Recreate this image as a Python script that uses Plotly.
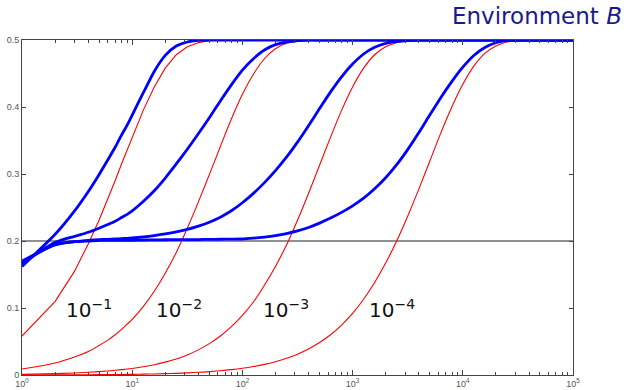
import plotly.graph_objects as go

# x sample points (time)
x_vals = [1, 2, 3, 4, 5, 6, 7, 8, 9, 10,
          12.59, 15.85, 19.95, 25.12, 31.62, 39.81, 50.12, 63.1, 79.43, 100,
          125.9, 158.5, 199.5, 251.2, 316.2, 398.1, 501.2, 631, 794.3, 1000,
          1259, 1585, 1995, 2512, 3162, 3981, 5012, 6310, 7943, 10000,
          12589, 15849, 19953, 25119, 31623, 39811, 50119, 63096, 79433, 100000]

red_1 = [0.058, 0.110, 0.155, 0.196, 0.231, 0.262, 0.290, 0.315, 0.336, 0.355,
         0.395, 0.430, 0.458, 0.478, 0.490, 0.496, 0.499, 0.5, 0.5, 0.5,
         0.5, 0.5, 0.5, 0.5, 0.5, 0.5, 0.5, 0.5, 0.5, 0.5,
         0.5, 0.5, 0.5, 0.5, 0.5, 0.5, 0.5, 0.5, 0.5, 0.5,
         0.5, 0.5, 0.5, 0.5, 0.5, 0.5, 0.5, 0.5, 0.5, 0.5]
red_2 = [0.009, 0.018, 0.027, 0.035, 0.044, 0.052, 0.060, 0.068, 0.076, 0.083,
         0.102, 0.125, 0.152, 0.183, 0.219, 0.258, 0.299, 0.341, 0.382, 0.419,
         0.449, 0.472, 0.487, 0.495, 0.498, 0.4996, 0.5, 0.5, 0.5, 0.5,
         0.5, 0.5, 0.5, 0.5, 0.5, 0.5, 0.5, 0.5, 0.5, 0.5,
         0.5, 0.5, 0.5, 0.5, 0.5, 0.5, 0.5, 0.5, 0.5, 0.5]
red_3 = [0.001, 0.002, 0.003, 0.004, 0.005, 0.006, 0.007, 0.008, 0.009, 0.0097,
         0.0122, 0.0153, 0.0192, 0.0240, 0.0300, 0.0375, 0.0468, 0.0582, 0.0721, 0.089,
         0.109, 0.134, 0.162, 0.194, 0.231, 0.271, 0.313, 0.355, 0.395, 0.430,
         0.458, 0.478, 0.490, 0.496, 0.499, 0.4998, 0.5, 0.5, 0.5, 0.5,
         0.5, 0.5, 0.5, 0.5, 0.5, 0.5, 0.5, 0.5, 0.5, 0.5]
red_4 = [0.0001, 0.0002, 0.0003, 0.0004, 0.0005, 0.0006, 0.0007, 0.0008, 0.0009, 0.001,
         0.0013, 0.0016, 0.0020, 0.0025, 0.0032, 0.0040, 0.0051, 0.0064, 0.0080, 0.0100,
         0.0126, 0.0158, 0.0199, 0.0249, 0.0311, 0.0388, 0.0484, 0.0601, 0.0745, 0.0919,
         0.113, 0.138, 0.167, 0.200, 0.237, 0.277, 0.319, 0.361, 0.400, 0.434,
         0.461, 0.480, 0.491, 0.497, 0.499, 0.4999, 0.5, 0.5, 0.5, 0.5]

blue_1 = [0.162, 0.210, 0.245, 0.274, 0.299, 0.321, 0.340, 0.358, 0.373, 0.388,
          0.421, 0.453, 0.477, 0.491, 0.497, 0.4995, 0.5, 0.5, 0.5, 0.5,
          0.5, 0.5, 0.5, 0.5, 0.5, 0.5, 0.5, 0.5, 0.5, 0.5,
          0.5, 0.5, 0.5, 0.5, 0.5, 0.5, 0.5, 0.5, 0.5, 0.5,
          0.5, 0.5, 0.5, 0.5, 0.5, 0.5, 0.5, 0.5, 0.5, 0.5]
blue_2 = [0.166, 0.198, 0.207, 0.213, 0.219, 0.2245, 0.2295, 0.235, 0.2398, 0.245,
          0.259, 0.275, 0.294, 0.315, 0.337, 0.360, 0.384, 0.409, 0.433, 0.455,
          0.472, 0.485, 0.493, 0.497, 0.499, 0.5, 0.5, 0.5, 0.5, 0.5,
          0.5, 0.5, 0.5, 0.5, 0.5, 0.5, 0.5, 0.5, 0.5, 0.5,
          0.5, 0.5, 0.5, 0.5, 0.5, 0.5, 0.5, 0.5, 0.5, 0.5]
blue_3 = [0.169, 0.195, 0.199, 0.201, 0.202, 0.2025, 0.203, 0.2035, 0.204, 0.2045,
          0.206, 0.208, 0.2105, 0.2135, 0.2173, 0.2221, 0.2281, 0.2356, 0.2451, 0.2571,
          0.2711, 0.2871, 0.3051, 0.3251, 0.3476, 0.3721, 0.3976, 0.4226, 0.4451, 0.4641,
          0.4791, 0.4891, 0.4951, 0.4981, 0.4991, 0.5, 0.5, 0.5, 0.5, 0.5,
          0.5, 0.5, 0.5, 0.5, 0.5, 0.5, 0.5, 0.5, 0.5, 0.5]
blue_4 = [0.170, 0.194, 0.199, 0.200, 0.201, 0.201, 0.201, 0.201, 0.201, 0.201,
          0.2015, 0.2017, 0.2019, 0.202, 0.202, 0.2022, 0.2024, 0.2026, 0.2028, 0.203,
          0.2042, 0.2058, 0.208, 0.211, 0.215, 0.2202, 0.2267, 0.2342, 0.2427, 0.2524,
          0.2639, 0.2779, 0.2944, 0.3139, 0.3364, 0.3614, 0.3879, 0.4139, 0.4379, 0.4594,
          0.4769, 0.4889, 0.4959, 0.4994, 0.5, 0.5, 0.5, 0.5, 0.5, 0.5]

threshold = 0.2
x_extent = [1, 100000]

rate_labels = ["10<sup>\u22121</sup>", "10<sup>\u22122</sup>",
               "10<sup>\u22123</sup>", "10<sup>\u22124</sup>"]
x_tickvals = [1, 10, 100, 1000, 10000, 100000]
x_ticktext = ["10<sup>0</sup>", "10<sup>1</sup>", "10<sup>2</sup>",
              "10<sup>3</sup>", "10<sup>4</sup>", "10<sup>5</sup>"]
y_tickvals = [0, 0.1, 0.2, 0.3, 0.4, 0.5]
y_ticktext = ["0", "0.1", "0.2", "0.3", "0.4", "0.5"]

fig = go.Figure()

fig.add_trace(go.Scatter(x=x_extent, y=[threshold, threshold], mode="lines",
                         line=dict(color="#222222", width=1.2), hoverinfo="skip"))

red_shapes = ["linear", "spline", "spline", "spline"]
for r, shp in zip([red_1, red_2, red_3, red_4], red_shapes):
    fig.add_trace(go.Scatter(x=x_vals, y=r, mode="lines", hoverinfo="skip",
                             line=dict(color="#ff0000", width=1.1, shape=shp)))
for b in [blue_1, blue_2, blue_3, blue_4]:
    fig.add_trace(go.Scatter(x=x_vals, y=b, mode="lines", hoverinfo="skip",
                             line=dict(color="#0000ff", width=2.8, shape="spline", smoothing=0.6)))

label_pos = [0.39, 1.207, 2.178, 3.14]
for txt, lx in zip(rate_labels, label_pos):
    fig.add_annotation(x=lx, y=0.098, xref="x", yref="y", text=txt, showarrow=False,
                       xanchor="left", yanchor="middle", borderpad=0,
                       font=dict(family="DejaVu Sans", size=20, color="#111111"))

fig.add_annotation(x=1.09, y=1.072, xref="paper", yref="paper",
                   text="Environment <i>B</i>", showarrow=False,
                   xanchor="right", yanchor="middle", borderpad=0,
                   font=dict(family="DejaVu Sans", size=23, color="#1a1a8c"))

axis_common = dict(showline=True, linecolor="#444444", linewidth=1, mirror="ticks",
                   ticks="inside", tickcolor="#444444", showgrid=False, zeroline=False,
                   automargin=False,
                   tickfont=dict(family="Liberation Sans", size=9, color="#555555"))

fig.update_xaxes(type="log", range=[0, 5], tickmode="array", tickvals=x_tickvals,
                 ticktext=x_ticktext, ticklen=5,
                 minor=dict(ticks="inside", ticklen=3, tickcolor="#444444", dtick="D1",
                            showgrid=False),
                 **axis_common)
fig.update_yaxes(range=[0, 0.5], tickmode="array", tickvals=y_tickvals,
                 ticktext=y_ticktext, ticklen=4, **axis_common)

fig.update_layout(
    width=627, height=390,
    margin=dict(l=22, r=54, t=40, b=15, autoexpand=False),
    plot_bgcolor="white", paper_bgcolor="white",
    showlegend=False, hovermode=False,
)

fig.write_html("out.html", config={"displayModeBar": False},
               post_script="document.body.style.margin='0';document.body.style.overflow='hidden';")
